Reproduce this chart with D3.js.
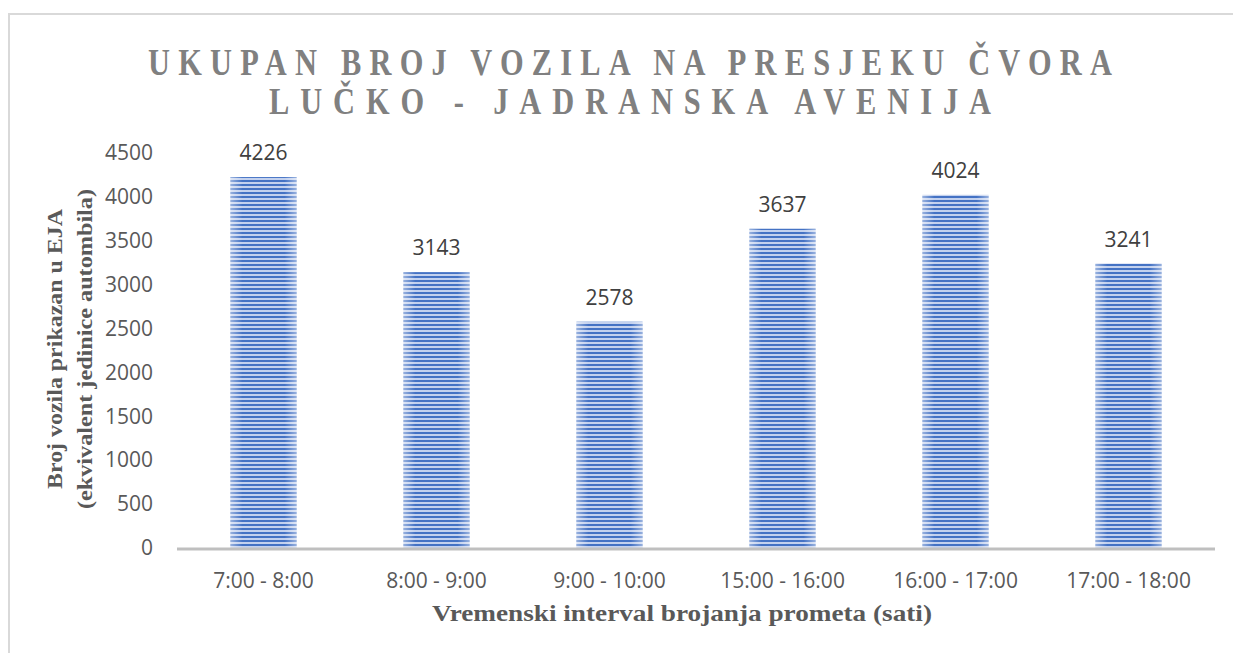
<!DOCTYPE html>
<html><head><meta charset="utf-8">
<script src="https://cdn.jsdelivr.net/npm/d3@7"></script>
<style>body{margin:0;background:#fff}</style></head>
<body><svg id="c" width="1233" height="653"></svg>
<script>
const categories = ["7:00 - 8:00","8:00 - 9:00","9:00 - 10:00","15:00 - 16:00","16:00 - 17:00","17:00 - 18:00"];
const values = [4226,3143,2578,3637,4024,3241];
const yTicks = [0,500,1000,1500,2000,2500,3000,3500,4000,4500];
const titleLines = ["UKUPAN BROJ VOZILA NA PRESJEKU ČVORA","LUČKO - JADRANSKA AVENIJA"];
const yTitleLines = ["Broj vozila prikazan u EJA","(ekvivalent jedinice autombila)"];
const xTitle = "Vremenski interval brojanja prometa (sati)";

const svg = d3.select("#c");
const L = 177, R = 1215, T = 153, B = 548;

svg.append("rect").attr("x",9).attr("y",14).attr("width",1400).attr("height",1000)
  .attr("fill","none").attr("stroke","#d9d9d9").attr("stroke-width",2);

const defs = svg.append("defs");
const pat = defs.append("pattern").attr("id","stripes").attr("patternUnits","userSpaceOnUse")
  .attr("width",10).attr("height",4);
pat.append("rect").attr("width",10).attr("height",4).attr("fill","#c3d1ee");
pat.append("rect").attr("width",10).attr("height",2).attr("fill","#4472c4");
const g = defs.append("linearGradient").attr("id","edge").attr("x1","0").attr("x2","1").attr("y1","0").attr("y2","0");
[[0,0.45],[0.18,0],[0.82,0],[1,0.45]].forEach(([o,a])=>g.append("stop").attr("offset",o).attr("stop-color","#fff").attr("stop-opacity",a));

const x = d3.scaleBand().domain(categories).range([L,R]).paddingInner(0.618).paddingOuter(0.309);
const y = d3.scaleLinear().domain([0,4500]).range([B,T]);

const bars = svg.append("g");
categories.forEach((c,i)=>{
  bars.append("rect").attr("x",x(c)).attr("y",y(values[i])).attr("width",x.bandwidth()).attr("height",B-y(values[i])).attr("fill","url(#stripes)");
  bars.append("rect").attr("x",x(c)).attr("y",y(values[i])).attr("width",x.bandwidth()).attr("height",B-y(values[i])).attr("fill","url(#edge)");
});

const yAxis = d3.axisLeft(y).tickValues(yTicks).tickSize(0).tickPadding(0).tickFormat(d3.format("d"));
const ya = svg.append("g").attr("transform",`translate(153,0)`).call(yAxis);
ya.select(".domain").remove();
ya.selectAll("text").attr("font-family","Open Sans").attr("font-size",21).attr("fill","#595959");

const xAxis = d3.axisBottom(x).tickSize(0).tickPadding(0);
const xa = svg.append("g").attr("transform",`translate(0,${B})`).call(xAxis);
xa.select(".domain").remove();
xa.selectAll("text").attr("font-family","Open Sans").attr("font-size",21).attr("fill","#595959").attr("dy",null).attr("y",40);
svg.append("line").attr("x1",L).attr("x2",R).attr("y1",B+1).attr("y2",B+1).attr("stroke","#bfbfbf").attr("stroke-width",3);

svg.append("g").selectAll("text").data(values).join("text")
  .attr("x",(d,i)=>x(categories[i])+x.bandwidth()/2).attr("y",d=>y(d)-17)
  .attr("text-anchor","middle").attr("font-family","Open Sans").attr("font-size",21).attr("fill","#404040")
  .text(d=>d);

// title: tall serif, horizontally condensed, letter-spaced
const titleW = [964, 722];
const sx = 0.8;
titleLines.forEach((t,i)=>{
  const tx = svg.append("text").attr("x",0).attr("y",0).attr("text-anchor","middle")
    .attr("font-family","Liberation Serif").attr("font-weight","bold").attr("font-size",38).attr("fill","#808080").text(t);
  const w0 = tx.node().getComputedTextLength();
  const ls = (titleW[i]/sx - w0)/(t.length-1);
  tx.attr("letter-spacing",ls).attr("x",ls/2)
    .attr("transform",`translate(630,${75+i*39}) scale(${sx},1)`);
});

// y title
const yTitleLen = [280, 320];
yTitleLines.forEach((t,i)=>{
  svg.append("text").attr("transform",`translate(${62+i*30},349) rotate(-90)`).attr("text-anchor","middle")
    .attr("font-family","Liberation Serif").attr("font-weight","bold").attr("font-size",22).attr("fill","#595959")
    .attr("textLength",yTitleLen[i]).attr("lengthAdjust","spacingAndGlyphs").text(t);
});

// x title
svg.append("text").attr("x",682).attr("y",621).attr("text-anchor","middle")
  .attr("font-family","Liberation Serif").attr("font-weight","bold").attr("font-size",23).attr("fill","#595959")
  .attr("textLength",500).attr("lengthAdjust","spacingAndGlyphs").text(xTitle);
</script></body></html>
